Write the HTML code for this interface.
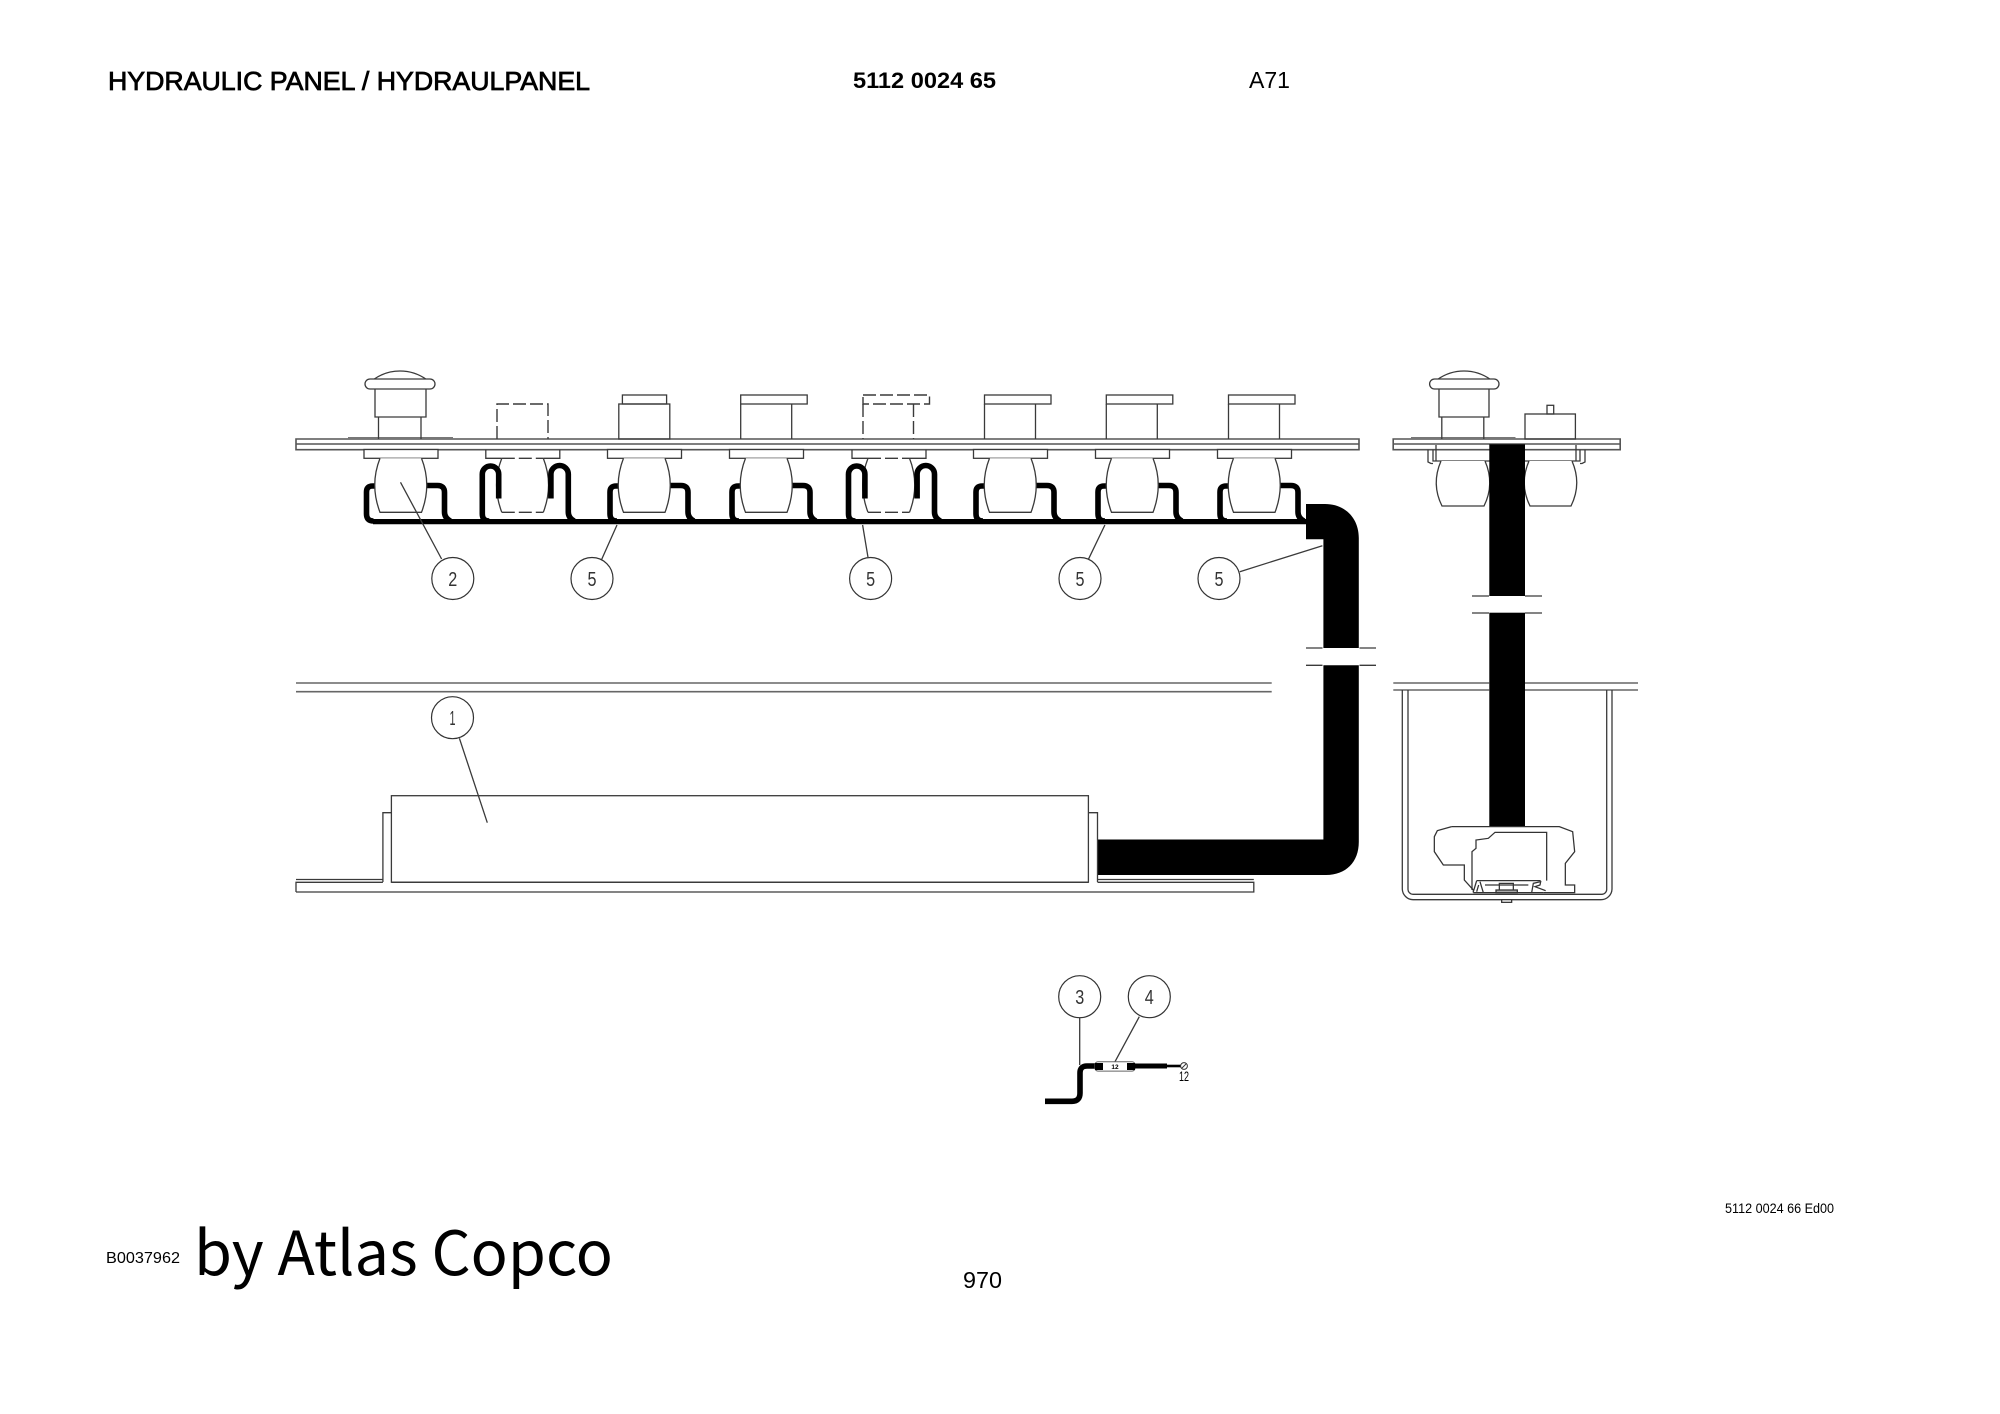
<!DOCTYPE html>
<html>
<head>
<meta charset="utf-8">
<style>
html,body{margin:0;padding:0;background:#fff;width:2000px;height:1414px;overflow:hidden}
svg{display:block}
.t{fill:none;stroke:#3a3a3a;stroke-width:1.3}
.p{fill:none;stroke:#555;stroke-width:1.6}
.w{fill:none;stroke:#000;stroke-width:5.6}
.b{fill:#fff;stroke:#3a3a3a;stroke-width:1.3}
.d{fill:none;stroke:#3a3a3a;stroke-width:1.4;stroke-dasharray:13 4}
.c{fill:#fff;stroke:#333;stroke-width:1.2}
.n{font-family:"Liberation Sans",sans-serif;font-size:20px;fill:#333;text-anchor:middle}
text{font-family:"Liberation Sans",sans-serif;fill:#000}
</style>
</head>
<body>
<svg width="2000" height="1414" viewBox="0 0 2000 1414" xmlns="http://www.w3.org/2000/svg">
<defs>
<g id="solidUnit">
  <path class="w" d="M-26,486 H-28 Q-34,486 -34,492 V514 Q-34,521 -27,521"/>
  <path class="w" d="M26,485.5 H37 Q44,485.5 44,492.5 V512 Q44,518 50,521"/>
  <rect class="b" x="-36.5" y="449.5" width="74" height="8.8"/>
  <path class="b" d="M-20.5,458.3 Q-31,485 -20.5,512.3 H21 Q31.5,485 21,458.3"/>
</g>
<g id="dashUnit">
  <path class="t" d="M-20.5,458.3 H-36.5 V449.7 M21,458.3 H37.5 V449.7"/>
  <path class="t" d="M-20.5,458.3 Q-31,485 -20.5,512.3 M21,512.3 Q31.5,485 21,458.3"/>
  <path class="d" d="M-20.5,458.3 H21 M-20.5,512.3 H21"/>
  <path class="w" d="M-40,514 V474.2 A8.2,8.2 0 0 1 -23.6,474.2 V498.5"/>
  <path class="w" d="M-40,514 Q-40,521 -33,521"/>
  <path class="w" d="M28.6,498.5 V474.2 A8.7,8.7 0 0 1 46,474.2 V512 Q46,518 52,521"/>
</g>
<g id="capBody">
  <rect class="t" x="-25.5" y="395" width="66.5" height="9"/>
  <path class="t" d="M-25.5,404 V439 M25.5,404 V439"/>
</g>
<g id="dashBody">
  <path class="d" d="M-25.5,395 H41 V404 H-25.5 Z"/>
  <path class="d" d="M-25.5,404 V439 M25,404 V439"/>
</g>
</defs>

<!-- header text -->
<text x="108" y="90" font-size="25.5" textLength="482" lengthAdjust="spacingAndGlyphs" stroke="#000" stroke-width=".75">HYDRAULIC PANEL / HYDRAULPANEL</text>
<text x="853" y="88" font-size="22.5" font-weight="bold" textLength="143" lengthAdjust="spacingAndGlyphs">5112 0024 65</text>
<text x="1249" y="88" font-size="23" fill="#222" textLength="41" lengthAdjust="spacingAndGlyphs">A71</text>

<!-- panel plate left -->
<path class="p" d="M296,439 H1359 V449.7 H296 Z M296,444 H1359"/>
<rect x="348" y="437" width="105" height="2" fill="#777"/>

<!-- unit wires and barrels -->
<use href="#solidUnit" x="400.5"/>
<use href="#dashUnit" x="522.3"/>
<use href="#solidUnit" x="644"/>
<use href="#solidUnit" x="766"/>
<use href="#dashUnit" x="888.5"/>
<use href="#solidUnit" x="1010"/>
<use href="#solidUnit" x="1132"/>
<use href="#solidUnit" x="1254"/>
<path d="M373,519 H1310 V524.3 H373 Z" fill="#000"/>

<!-- mushroom button 1 -->
<path class="t" d="M373.5,379.5 A45.6,45.6 0 0 1 426.5,379.5"/>
<rect class="b" x="365" y="379" width="70" height="10" rx="5"/>
<path class="t" d="M375,389 V417 H426 V389 M378.5,417 V439 M421,417 V439"/>

<!-- unit 2 top -->
<path class="d" d="M497,439 V404 H548 V439"/>
<!-- unit 3 top -->
<rect class="t" x="622.4" y="395" width="44.2" height="9"/>
<rect class="t" x="618.8" y="404" width="51" height="35"/>
<!-- cap bodies -->
<use href="#capBody" x="766.2"/>
<use href="#dashBody" x="888.5"/>
<use href="#capBody" x="1010"/>
<use href="#capBody" x="1131.8"/>
<use href="#capBody" x="1254"/>

<!-- big pipe -->
<path fill="#000" d="M1306,504 H1325 C1345,504 1358.8,518 1358.8,538 V648 H1323.4 V539.3 H1306 Z"/>
<path fill="#000" d="M1323.4,665.3 H1358.8 V842 C1358.8,862 1346,875 1326,875 H1097.5 V839.5 H1323.4 Z"/>
<path class="t" d="M1306,648 H1322.5 M1359.5,648 H1376 M1306,665.3 H1322.5 M1359.5,665.3 H1376"/>

<!-- leaders and balloons -->
<path class="t" d="M400.5,482.3 L441.6,559 M601.4,560 L617,525 M868,557.3 L862.6,525 M1088.4,559.3 L1104.9,525 M1239.8,571.7 L1322.4,545.7"/>
<circle class="c" cx="452.8" cy="578.5" r="21"/><text class="n" x="452.8" y="586" textLength="9" lengthAdjust="spacingAndGlyphs">2</text>
<circle class="c" cx="592" cy="578.5" r="21"/><text class="n" x="592" y="586" textLength="9" lengthAdjust="spacingAndGlyphs">5</text>
<circle class="c" cx="870.6" cy="578.5" r="21"/><text class="n" x="870.6" y="586" textLength="9" lengthAdjust="spacingAndGlyphs">5</text>
<circle class="c" cx="1080" cy="578.5" r="21"/><text class="n" x="1080" y="586" textLength="9" lengthAdjust="spacingAndGlyphs">5</text>
<circle class="c" cx="1219" cy="578.5" r="21"/><text class="n" x="1219" y="586" textLength="9" lengthAdjust="spacingAndGlyphs">5</text>

<!-- right view -->
<path class="p" d="M1393.2,439 H1620.2 V449.7 H1393.2 Z M1393.2,444 H1620.2"/>
<rect x="1411" y="437" width="104.5" height="2" fill="#777"/>
<path class="t" d="M1437.5,379.5 A45.6,45.6 0 0 1 1490.5,379.5"/>
<rect class="b" x="1429.6" y="379" width="69.4" height="10" rx="5"/>
<path class="t" d="M1439,389 V417 H1489 V389 M1441.8,417 V439 M1483.8,417 V439"/>
<rect class="t" x="1525" y="414" width="50.4" height="25"/>
<rect class="t" x="1547" y="405.3" width="6.7" height="8.7"/>
<path class="t" d="M1433,449.7 V461 H1580 V449.7 M1428,449.7 V462 L1431,463.5 H1433 M1585,449.7 V462 L1582,463.5 H1580 M1436,445 V461 M1576,445 V461"/>
<path class="b" d="M1441,461 Q1431,484 1442,506 H1484 Q1495,484 1485,461"/>
<path class="b" d="M1529,461 Q1519,484 1530,506 H1571 Q1582,484 1572,461"/>
<rect x="1489.3" y="444.3" width="35.7" height="151.7" fill="#000"/>
<rect x="1489.3" y="612.7" width="35.7" height="214" fill="#000"/>
<path class="t" d="M1472,596 H1489 M1525,596 H1542 M1472,613 H1489 M1525,613 H1542"/>

<!-- upper lines -->
<path d="M296,683 H1271.7 M296,691.7 H1271.7" fill="none" stroke="#666" stroke-width="1.6"/>
<path d="M1393.3,683 H1489.3 M1525,683 H1638 M1393.3,690 H1489.3 M1525,690 H1638" fill="none" stroke="#666" stroke-width="1.6"/>

<!-- tank -->
<path class="t" d="M1402.3,690 V889 A11,11 0 0 0 1413,899.7 H1601 A11,11 0 0 0 1612,889 V690"/>
<path class="t" d="M1408,690 V889 A5,5 0 0 0 1413,894.3 H1601.5 A5,5 0 0 0 1606.7,889 V690"/>

<!-- block inside tank -->
<g transform="translate(1380,670) scale(.33333)" fill="none" stroke="#333" stroke-width="3.8">
  <path d="M215,470 H538 L578,485 L584,545 L556,580 V645 H584 V668 H490"/>
  <path d="M215,470 L172,482 L163,500 V545 L190,585 H253 V630 L280,660 V668"/>
  <path d="M276,660 V545 L288,535 V510 L325,505 L345,487 H500 V632"/>
  <path d="M290,632 H482 M290,632 L280,665 M300,635 L310,668 M296,645 L290,665 M280,668 H490"/>
  <path d="M455,668 L460,640 L482,635 L480,645 L465,650 L497,662"/>
  <path d="M315,645 H445 M358,660 V640 H400 V660"/>
  <rect x="348" y="660" width="64" height="8" fill="#aaa"/>
  <rect x="365" y="689" width="30" height="8" fill="#fff"/>
</g>

<!-- lower assembly -->
<rect class="t" x="391.4" y="795.7" width="697" height="86.5"/>
<path class="t" d="M391.4,812.7 H382.9 V882 M1088.4,812.7 H1097.5 V882"/>
<path class="t" d="M296,892 H1253.8 V882.3 H1097.5 M382.9,882.3 H296 V892 M296,879.5 H382.9 M1097.5,879.5 H1253.8"/>
<path class="t" d="M391.4,882.3 H1088.4"/>
<path class="t" d="M459.4,738.3 L487.3,822.7"/>
<circle class="c" cx="452.5" cy="717.7" r="21"/><text class="n" x="452.5" y="725" textLength="6" lengthAdjust="spacingAndGlyphs">1</text>

<!-- small detail -->
<path class="t" d="M1079.7,1018 V1065 M1139.3,1016.7 L1115,1061.7"/>
<circle class="c" cx="1079.7" cy="996.7" r="21"/><text class="n" x="1079.7" y="1004" textLength="9" lengthAdjust="spacingAndGlyphs">3</text>
<circle class="c" cx="1149.3" cy="996.7" r="21"/><text class="n" x="1149.3" y="1004" textLength="9" lengthAdjust="spacingAndGlyphs">4</text>
<path class="w" d="M1045,1101.3 H1072 Q1080,1101.3 1080,1093 V1073 Q1080,1066 1087,1066 H1096"/>
<rect x="1095" y="1061.7" width="40" height="9.4" rx="3" fill="#fff" stroke="#666" stroke-width="1"/>
<rect x="1095" y="1063" width="8" height="7" fill="#000"/>
<rect x="1127" y="1063" width="8" height="7" fill="#000"/>
<path d="M1135,1066 H1167" stroke="#000" stroke-width="5" fill="none"/>
<path d="M1167,1066 H1181" stroke="#000" stroke-width="2.6" fill="none"/>
<circle cx="1184" cy="1066" r="3.4" fill="#fff" stroke="#333" stroke-width="1"/>
<path d="M1182,1068 L1186,1064" stroke="#333" stroke-width="1"/>
<text x="1115" y="1069" font-size="6.5" font-weight="bold" text-anchor="middle">12</text>
<text x="1184" y="1081" font-size="13.5" fill="#333" text-anchor="middle" textLength="10" lengthAdjust="spacingAndGlyphs">12</text>

<!-- footer text -->
<text x="106" y="1263" font-size="16" fill="#222" textLength="74" lengthAdjust="spacingAndGlyphs">B0037962</text>
<text x="194" y="1275" style='font-family:"Noto Sans CJK SC","Liberation Sans",sans-serif' font-size="61" textLength="419" lengthAdjust="spacingAndGlyphs">by Atlas Copco</text>
<text x="963" y="1288" font-size="23" fill="#111" textLength="39" lengthAdjust="spacingAndGlyphs">970</text>
<text x="1725" y="1213" font-size="14" fill="#222" textLength="109" lengthAdjust="spacingAndGlyphs">5112 0024 66 Ed00</text>
</svg>
</body>
</html>
